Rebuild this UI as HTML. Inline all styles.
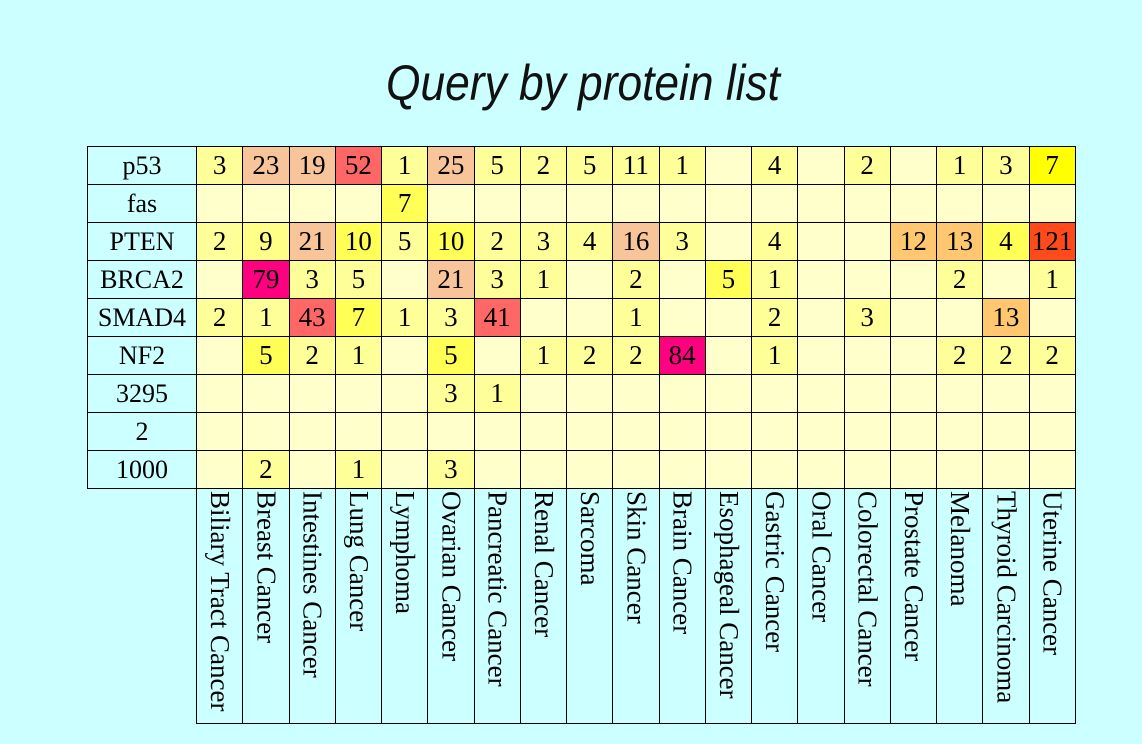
<!DOCTYPE html>
<html><head><meta charset="utf-8"><style>
body{margin:0;width:1142px;height:744px;background:#ccffff;overflow:hidden;position:relative;font-family:"Liberation Serif",serif;}
svg.t{position:absolute;left:0;top:0}
table{position:absolute;left:87px;top:146px;border-collapse:collapse;table-layout:fixed;width:988px;font-family:"Liberation Serif",serif;}
td{border:1px solid #000;height:37px;padding:0;text-align:center;font-size:27px;background:#ffffcc;line-height:37px;overflow:hidden;white-space:nowrap}
td.r{background:#ccffff;font-size:26px}
tr.h td{height:234px;background:#ccffff;vertical-align:top;line-height:normal;font-size:27px}
tr.h td.e{border:none;border-right:1px solid #000;background:transparent}
tr.h td div{writing-mode:vertical-rl;margin:2px auto 0;white-space:nowrap}
.a{background:#ffff99}.b{background:#ffff55}.c{background:#ffff00}.d{background:#f8c49a}.f{background:#ffc870}.g{background:#ff6666}.m{background:#ff0080}.o{background:#ff4a1c}.n{background:#ffff88}
</style></head><body>
<svg class="t" width="1142" height="140"><text x="386" y="100" textLength="394" lengthAdjust="spacingAndGlyphs" font-family="Liberation Sans, sans-serif" font-style="italic" font-size="50" fill="#111">Query by protein list</text></svg>
<table>
<colgroup><col style="width:109px"><col span="19" style="width:46.26px"></colgroup>
<tr><td class="r">p53</td><td class="a">3</td><td class="d">23</td><td class="d">19</td><td class="g">52</td><td class="a">1</td><td class="d">25</td><td class="a">5</td><td class="a">2</td><td class="a">5</td><td class="a">11</td><td class="a">1</td><td></td><td class="a">4</td><td></td><td class="a">2</td><td></td><td class="a">1</td><td class="a">3</td><td class="c">7</td></tr>
<tr><td class="r">fas</td><td></td><td></td><td></td><td></td><td class="b">7</td><td></td><td></td><td></td><td></td><td></td><td></td><td></td><td></td><td></td><td></td><td></td><td></td><td></td><td></td></tr>
<tr><td class="r">PTEN</td><td class="a">2</td><td class="n">9</td><td class="d">21</td><td class="b">10</td><td class="a">5</td><td class="b">10</td><td class="a">2</td><td class="a">3</td><td class="a">4</td><td class="d">16</td><td class="a">3</td><td></td><td class="a">4</td><td></td><td></td><td class="f">12</td><td class="f">13</td><td class="b">4</td><td class="o">121</td></tr>
<tr><td class="r">BRCA2</td><td></td><td class="m">79</td><td class="a">3</td><td class="a">5</td><td></td><td class="d">21</td><td class="a">3</td><td class="a">1</td><td></td><td class="a">2</td><td></td><td class="b">5</td><td class="a">1</td><td></td><td></td><td></td><td class="a">2</td><td></td><td class="a">1</td></tr>
<tr><td class="r">SMAD4</td><td class="a">2</td><td class="a">1</td><td class="g">43</td><td class="b">7</td><td class="a">1</td><td class="a">3</td><td class="g">41</td><td></td><td></td><td class="a">1</td><td></td><td></td><td class="a">2</td><td></td><td class="a">3</td><td></td><td></td><td class="f">13</td><td></td></tr>
<tr><td class="r">NF2</td><td></td><td class="b">5</td><td class="a">2</td><td class="a">1</td><td></td><td class="b">5</td><td></td><td class="a">1</td><td class="a">2</td><td class="a">2</td><td class="m">84</td><td></td><td class="a">1</td><td></td><td></td><td></td><td class="a">2</td><td class="a">2</td><td class="a">2</td></tr>
<tr><td class="r">3295</td><td></td><td></td><td></td><td></td><td></td><td class="a">3</td><td class="a">1</td><td></td><td></td><td></td><td></td><td></td><td></td><td></td><td></td><td></td><td></td><td></td><td></td></tr>
<tr><td class="r">2</td><td></td><td></td><td></td><td></td><td></td><td></td><td></td><td></td><td></td><td></td><td></td><td></td><td></td><td></td><td></td><td></td><td></td><td></td><td></td></tr>
<tr><td class="r">1000</td><td></td><td class="a">2</td><td></td><td class="a">1</td><td></td><td class="a">3</td><td></td><td></td><td></td><td></td><td></td><td></td><td></td><td></td><td></td><td></td><td></td><td></td><td></td></tr>
<tr class="h"><td class="e"></td><td><div>Biliary Tract Cancer</div></td><td><div>Breast Cancer</div></td><td><div>Intestines Cancer</div></td><td><div>Lung Cancer</div></td><td><div>Lymphoma</div></td><td><div>Ovarian Cancer</div></td><td><div>Pancreatic Cancer</div></td><td><div>Renal Cancer</div></td><td><div>Sarcoma</div></td><td><div>Skin Cancer</div></td><td><div>Brain Cancer</div></td><td><div>Esophageal Cancer</div></td><td><div>Gastric Cancer</div></td><td><div>Oral Cancer</div></td><td><div>Colorectal Cancer</div></td><td><div>Prostate Cancer</div></td><td><div>Melanoma</div></td><td><div>Thyroid Carcinoma</div></td><td><div>Uterine Cancer</div></td></tr>
</table>
</body></html>
